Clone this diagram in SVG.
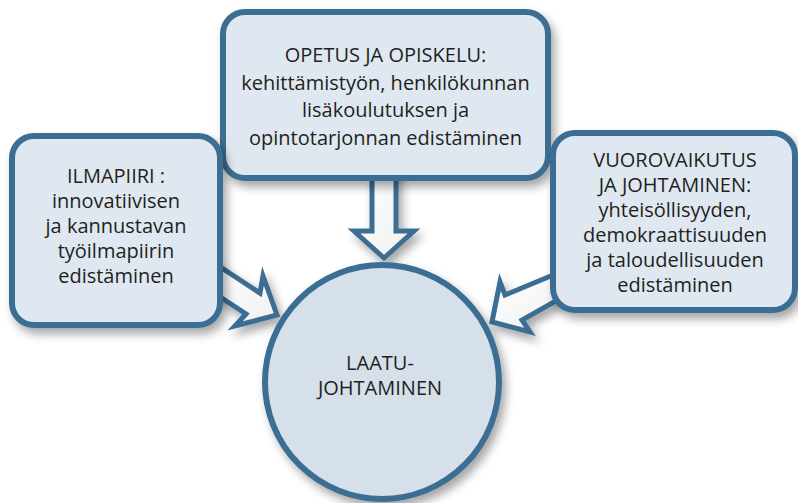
<svg xmlns="http://www.w3.org/2000/svg" width="798" height="503" viewBox="0 0 798 503">
<defs>
<filter id="sh" x="-20%" y="-20%" width="150%" height="150%">
<feDropShadow dx="4" dy="6" stdDeviation="5" flood-color="#000" flood-opacity="0.35"/>
</filter>
<linearGradient id="ag" x1="0" y1="0" x2="1" y2="1">
<stop offset="0" stop-color="#ffffff"/>
<stop offset="1" stop-color="#f0f0f0"/>
</linearGradient>
</defs>
<style>
.box{fill:#dfe8f0;stroke:#3a6e92;stroke-width:6;filter:url(#sh)}
.circ{fill:#d5e0ea;stroke:#3a6e92;stroke-width:6;filter:url(#sh)}
.arr{fill:url(#ag);stroke:#3a6e92;stroke-width:5;stroke-linejoin:miter;filter:url(#sh)}
text{font-family:"Open Sans","Liberation Sans",sans-serif;font-size:20px;fill:#231f20;text-anchor:middle}
</style>
<rect width="798" height="503" fill="#ffffff"/>
<g id="connectors">
<polygon class="arr" points="372,160 372,231 354,231 384,258 414,231 396,231 396,160"/>
<polygon class="arr" points="205,257 260,293 263,276 277,315 235,326 246,314 205,287"/>
<polygon class="arr" points="570,268 505,295 500,282 492,322 530,332 522,320 570,293"/>
</g>
<g id="node-opetus">
<rect class="box" x="223" y="12" width="325" height="166" rx="22"/>
<text x="385.5" y="62">OPETUS JA OPISKELU:</text>
<text x="385.5" y="90">kehittämistyön, henkilökunnan</text>
<text x="385.5" y="117">lisäkoulutuksen ja</text>
<text x="385.5" y="145">opintotarjonnan edistäminen</text>
</g>
<g id="node-ilmapiiri">
<rect class="box" x="12" y="136" width="208" height="189" rx="22"/>
<text x="116" y="183">ILMAPIIRI :</text>
<text x="116" y="208">innovatiivisen</text>
<text x="116" y="233">ja kannustavan</text>
<text x="116" y="258">työilmapiirin</text>
<text x="116" y="283">edistäminen</text>
</g>
<g id="node-vuorovaikutus">
<rect class="box" x="553" y="133" width="242" height="177" rx="22"/>
<text x="675" y="167">VUOROVAIKUTUS</text>
<text x="675" y="192">JA JOHTAMINEN:</text>
<text x="675" y="217">yhteisöllisyyden,</text>
<text x="675" y="242">demokraattisuuden</text>
<text x="675" y="267">ja taloudellisuuden</text>
<text x="675" y="292">edistäminen</text>
</g>
<g id="node-laatu">
<circle class="circ" cx="382" cy="382" r="117"/>
<text x="380" y="370">LAATU-</text>
<text x="380" y="395">JOHTAMINEN</text>
</g>
</svg>
